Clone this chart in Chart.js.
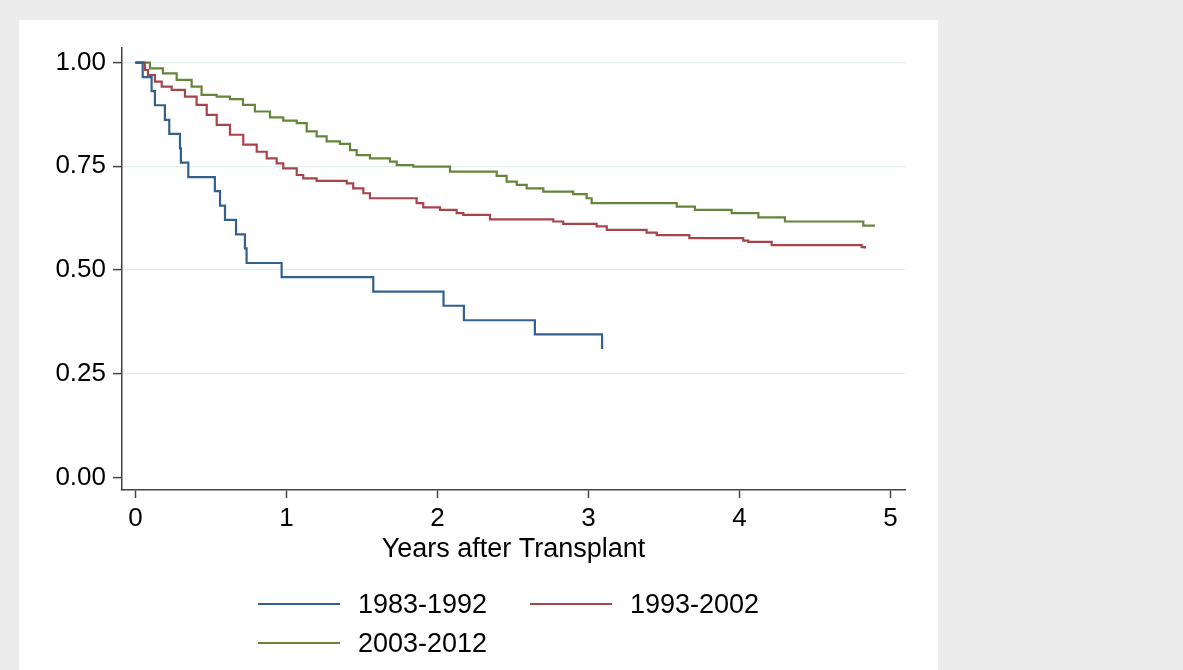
<!DOCTYPE html>
<html>
<head>
<meta charset="utf-8">
<script src="https://cdn.jsdelivr.net/npm/chart.js@4/dist/chart.umd.min.js"></script>
<style>
  body { margin: 0; background: #ececec; font-family: "Liberation Sans", Arial, sans-serif; }
  #panel { position: absolute; left: 19px; top: 20px; width: 919px; height: 650px; background: #fff; }
  #chart { position: absolute; left: 0; top: 0; }
  .leg { position: absolute; font-size: 27px; color: #000; line-height: 30px; }
  .leg span.sw { position: absolute; top: 14px; height: 2px; }
</style>
</head>
<body>
<div id="panel">
  <canvas id="chart" width="919" height="650"></canvas>
  <div id="legend"></div>
</div>
<script>
// Kaplan-Meier step points: years after transplant and survival after each drop
const seriesLabels = ['1983-1992', '1993-2002', '2003-2012'];

const years8392 = [0, 0.048, 0.107, 0.129, 0.195, 0.224, 0.295, 0.301, 0.350, 0.526, 0.560, 0.593,
  0.666, 0.725, 0.736, 0.968, 1.575, 2.04, 2.175, 2.645, 3.09];
const surv8392 = [1, 0.965, 0.931, 0.897, 0.862, 0.828, 0.793, 0.759, 0.724, 0.690, 0.655, 0.621,
  0.586, 0.552, 0.517, 0.483, 0.448, 0.414, 0.379, 0.345, 0.31];

const years9302 = [0, 0.063, 0.083, 0.129, 0.174, 0.240, 0.328, 0.405, 0.472, 0.538, 0.626, 0.714,
  0.803, 0.869, 0.935, 0.979, 1.068, 1.111, 1.200, 1.399, 1.442, 1.509, 1.553, 1.862, 1.906, 2.017,
  2.127, 2.171, 2.348, 2.767, 2.833, 3.054, 3.121, 3.385, 3.452, 3.668, 4.025, 4.058, 4.213, 4.809, 4.831];
const surv9302 = [1, 0.982, 0.970, 0.954, 0.942, 0.934, 0.918, 0.898, 0.874, 0.850, 0.826, 0.802,
  0.785, 0.769, 0.757, 0.745, 0.729, 0.721, 0.715, 0.709, 0.697, 0.685, 0.673, 0.661, 0.651, 0.645,
  0.637, 0.633, 0.622, 0.617, 0.611, 0.605, 0.597, 0.590, 0.584, 0.577, 0.571, 0.568, 0.560, 0.555, 0.552];

const years0312 = [0, 0.096, 0.182, 0.273, 0.372, 0.438, 0.538, 0.626, 0.712, 0.791, 0.891, 0.979,
  1.068, 1.134, 1.200, 1.266, 1.354, 1.421, 1.465, 1.553, 1.685, 1.730, 1.840, 2.083, 2.392, 2.458,
  2.525, 2.591, 2.701, 2.899, 2.988, 3.021, 3.584, 3.705, 3.948, 4.125, 4.301, 4.820, 4.897];
const surv0312 = [1, 0.986, 0.974, 0.958, 0.942, 0.922, 0.918, 0.912, 0.898, 0.882, 0.868, 0.860,
  0.854, 0.834, 0.822, 0.810, 0.804, 0.789, 0.777, 0.769, 0.761, 0.753, 0.749, 0.737, 0.727, 0.713,
  0.705, 0.697, 0.689, 0.683, 0.673, 0.661, 0.653, 0.645, 0.637, 0.627, 0.617, 0.607, 0.607];

const xTicks = [0, 1, 2, 3, 4, 5];
const yTicks = [0, 0.25, 0.5, 0.75, 1];
const colors = ['#33608c', '#a8434a', '#64853a'];

function pts(xs, ys) { return xs.map((x, i) => ({ x: x, y: ys[i] })); }

const allYears = [years8392, years9302, years0312];
const allSurv = [surv8392, surv9302, surv0312];

const datasets = seriesLabels.map((lab, i) => ({
  label: lab,
  data: pts(allYears[i], allSurv[i]),
  borderColor: colors[i],
  borderWidth: 2.2,
  pointRadius: 0,
  stepped: true,
  fill: false
}));

const axisColor = '#444';

new Chart(document.getElementById('chart').getContext('2d'), {
  type: 'line',
  data: { datasets: datasets },
  options: {
    responsive: false,
    animation: false,
    layout: { padding: { top: 28, right: 33, bottom: 100, left: 0 } },
    plugins: { legend: { display: false }, tooltip: { enabled: false } },
    scales: {
      x: {
        type: 'linear',
        min: -0.089,
        max: 5.096,
        afterBuildTicks: s => { s.ticks = xTicks.map(v => ({ value: v })); },
        afterFit: s => { s.height = 80; },
        border: { color: axisColor, width: 1.5 },
        grid: { drawOnChartArea: false, drawTicks: true, tickLength: 8, tickColor: axisColor, tickWidth: 1.5 },
        ticks: { color: '#000', font: { size: 26, family: 'Liberation Sans' }, padding: 5, maxRotation: 0,
          callback: v => String(v) },
        title: { display: true, text: 'Years after Transplant', color: '#000',
          font: { size: 27, family: 'Liberation Sans' }, padding: { top: 0, bottom: 4 } }
      },
      y: {
        min: -0.03,
        max: 1.035,
        afterBuildTicks: s => { s.ticks = yTicks.map(v => ({ value: v })); },
        afterFit: s => { s.width = 103; },
        border: { color: axisColor, width: 1.5 },
        grid: {
          color: ctx => ctx.tick && ctx.tick.value === 0 ? 'rgba(0,0,0,0)' : '#e4edf0',
          lineWidth: 1.2,
          tickLength: 9, tickColor: axisColor, tickWidth: 1.5
        },
        ticks: { color: '#000', font: { size: 26, family: 'Liberation Sans' }, padding: 7,
          callback: v => v.toFixed(2) }
      }
    }
  }
});

// legend laid out like the original: two columns, second row under the first
const legendPos = [[239, 569], [511, 569], [239, 608]];
const legend = document.getElementById('legend');
datasets.forEach((d, i) => {
  const el = document.createElement('div');
  el.className = 'leg';
  el.style.left = legendPos[i][0] + 'px';
  el.style.top = legendPos[i][1] + 'px';
  el.style.paddingLeft = '100px';
  el.innerHTML = '<span class="sw" style="left:0;width:82px;background:' + d.borderColor + '"></span>' + d.label;
  legend.appendChild(el);
});
</script>
</body>
</html>
